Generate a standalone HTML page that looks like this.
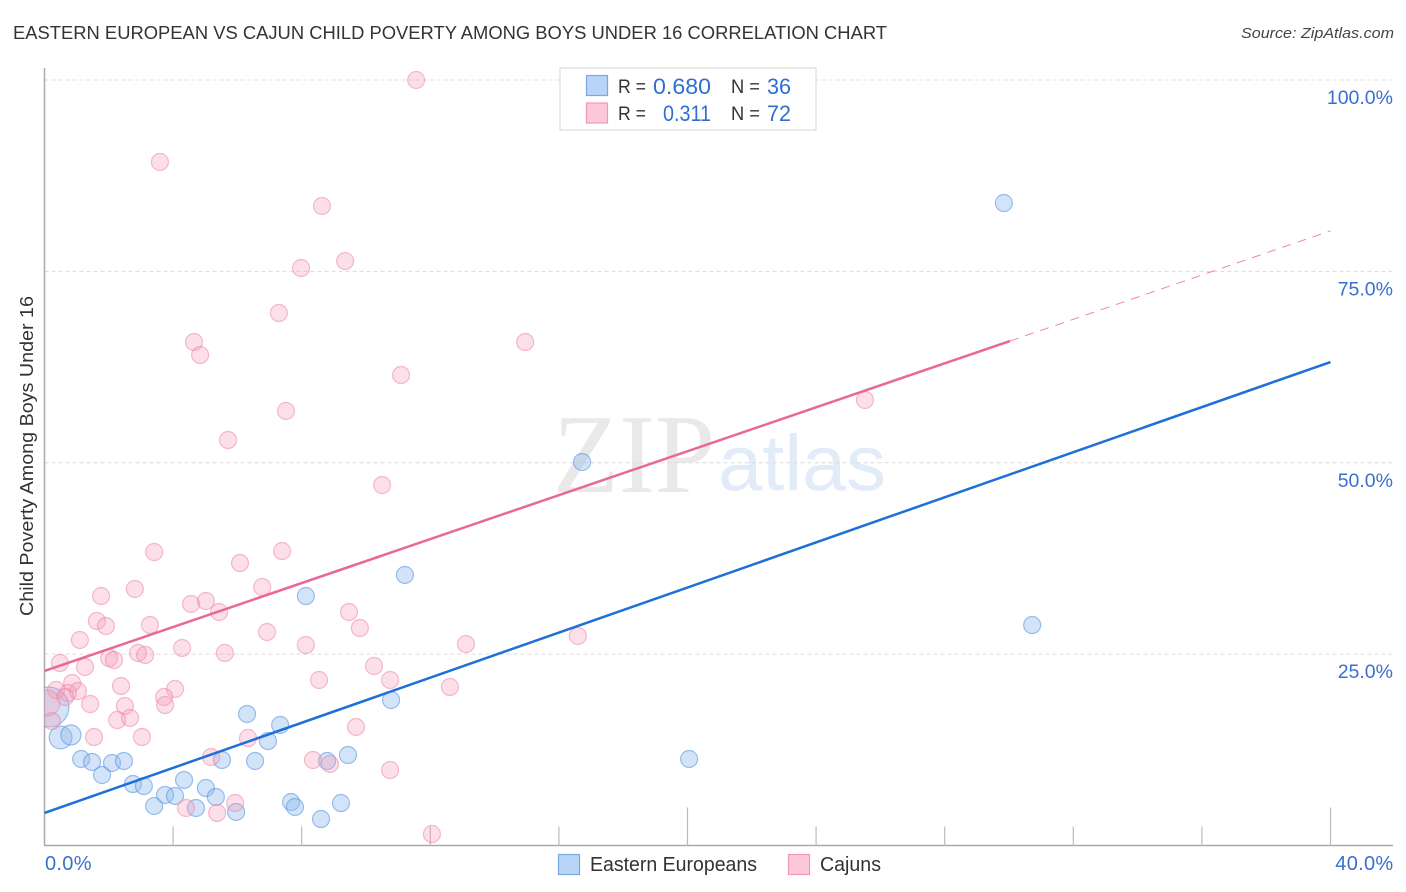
<!DOCTYPE html>
<html lang="en">
<head>
<meta charset="utf-8">
<title>Eastern European vs Cajun Child Poverty Among Boys Under 16 Correlation Chart</title>
<style>
html,body{margin:0;padding:0;background:#fff;width:1406px;height:892px;overflow:hidden}
svg{display:block;font-family:"Liberation Sans",sans-serif}
</style>
</head>
<body>
<svg id="chart" width="1406" height="892" viewBox="0 0 1406 892" xmlns="http://www.w3.org/2000/svg">
  <defs>
    <clipPath id="plot-clip"><rect x="44.5" y="60" width="1349" height="785.5"/></clipPath>
  </defs>
  <text x="13" y="39" font-size="18" fill="#333" textLength="874" lengthAdjust="spacingAndGlyphs">EASTERN EUROPEAN VS CAJUN CHILD POVERTY AMONG BOYS UNDER 16 CORRELATION CHART</text>
  <text x="1394" y="38" font-size="15" font-style="italic" fill="#444" text-anchor="end" textLength="153" lengthAdjust="spacingAndGlyphs">Source: ZipAtlas.com</text>
  <g>
    <text x="553" y="492" font-family="'Liberation Serif',serif" font-size="112" fill="#e9e9e9" textLength="162" lengthAdjust="spacingAndGlyphs">ZIP</text>
    <text x="718" y="490" font-size="79" fill="#e2ebf8" textLength="168" lengthAdjust="spacingAndGlyphs">atlas</text>
  </g>
  <g id="grid"></g>
  <g id="axes">
    <line x1="44.5" y1="68" x2="44.5" y2="845.5" stroke="#aaa" stroke-width="1.5"/>
    <line x1="44" y1="845.5" x2="1393" y2="845.5" stroke="#aaa" stroke-width="1.5"/>
  </g>
  <g id="x-ticks"></g>
  <g id="y-labels"></g>
  <g id="x-labels"></g>
  <text transform="translate(33,456) rotate(-90)" font-size="18" fill="#333" text-anchor="middle" textLength="320" lengthAdjust="spacingAndGlyphs">Child Poverty Among Boys Under 16</text>
  <g id="points" clip-path="url(#plot-clip)"></g>
  <g id="trends"></g>
  <g>
    <rect x="560" y="68" width="256" height="62" fill="#fff" stroke="#ddd" stroke-width="1.2"/>
    <rect x="586.5" y="75.5" width="21" height="20" fill="#b8d4f6" stroke="#7ba8e0" stroke-width="1.2"/>
    <rect x="586.5" y="103" width="21" height="20" fill="#fcc8da" stroke="#f09ab8" stroke-width="1.2"/>
    <text x="618" y="93" font-size="19" fill="#333" textLength="28" lengthAdjust="spacingAndGlyphs">R =</text>
    <text x="653" y="94" font-size="22" fill="#2f6fd0" textLength="58" lengthAdjust="spacingAndGlyphs">0.680</text>
    <text x="731" y="93" font-size="19" fill="#333" textLength="29" lengthAdjust="spacingAndGlyphs">N =</text>
    <text x="767" y="94" font-size="22" fill="#2f6fd0" textLength="24" lengthAdjust="spacingAndGlyphs">36</text>
    <text x="618" y="120" font-size="19" fill="#333" textLength="28" lengthAdjust="spacingAndGlyphs">R =</text>
    <text x="663" y="121" font-size="22" fill="#2f6fd0" textLength="48" lengthAdjust="spacingAndGlyphs">0.311</text>
    <text x="731" y="120" font-size="19" fill="#333" textLength="29" lengthAdjust="spacingAndGlyphs">N =</text>
    <text x="767" y="121" font-size="22" fill="#2f6fd0" textLength="24" lengthAdjust="spacingAndGlyphs">72</text>
  </g>
  <g>
    <g>
      <rect x="558.5" y="854.5" width="21" height="20" fill="#b8d4f6" stroke="#7ba8e0" stroke-width="1.2"/>
      <text x="590" y="871" font-size="20" fill="#333" textLength="167" lengthAdjust="spacingAndGlyphs">Eastern Europeans</text>
    </g>
    <g>
      <rect x="788.5" y="854.5" width="21" height="20" fill="#fcc8da" stroke="#f09ab8" stroke-width="1.2"/>
      <text x="820" y="871" font-size="20" fill="#333" textLength="61" lengthAdjust="spacingAndGlyphs">Cajuns</text>
    </g>
  </g>
</svg>
<script>
const yTickValues = [25, 50, 75, 100];
const yTickLabels = ["25.0%", "50.0%", "75.0%", "100.0%"];
const xTickValues = [4, 8, 12, 16, 20, 24, 28, 32, 36, 40];
const xMajorTicks = [20, 40];
const xEndValues = [0, 40];
const xEndLabels = ["0.0%", "40.0%"];

const easternX = [0.14,0.50,0.82,1.14,1.48,1.79,2.10,2.47,2.75,3.09,3.41,3.75,4.06,4.34,4.71,5.02,5.33,5.96,5.52,6.30,6.55,6.95,7.33,7.67,7.79,8.60,8.79,9.22,9.44,10.78,8.13,11.21,16.72,30.72,29.84,20.05];
const easternY = [18.09,14.11,14.44,11.30,10.91,9.21,10.78,11.04,8.03,7.77,5.16,6.60,6.47,8.56,4.90,7.51,6.34,4.38,11.17,17.18,11.04,13.65,15.74,5.68,5.03,3.46,11.04,5.55,11.82,19.01,32.59,35.34,50.10,28.80,83.93,11.30];
const easternWeight = [5.5,1.8,1.4,1,1,1,1,1,1,1,1,1,1,1,1,1,1,1,1,1,1,1,1,1,1,1,1,1,1,1,1,1,1,1,1,1];

const cajunX = [11.56,3.59,8.63,9.35,7.98,7.29,4.65,4.84,14.95,11.09,7.51,25.52,5.71,10.50,3.41,7.39,6.08,6.77,2.81,1.76,4.56,5.02,5.43,9.47,1.63,1.91,3.28,9.81,6.92,1.10,16.59,8.13,13.11,2.91,3.13,4.28,5.61,2.01,2.16,0.48,1.26,10.25,8.54,10.75,12.61,0.86,2.38,4.06,3.72,3.75,0.36,1.04,0.73,0.64,1.42,2.50,2.26,2.66,0.23,1.54,3.03,6.33,9.69,5.18,8.35,8.88,10.75,4.40,5.93,5.37,12.05,0.08];
const cajunY = [100.00,89.29,83.54,76.35,75.44,69.56,65.77,64.08,65.77,61.46,56.76,58.20,52.97,47.09,38.34,38.47,36.90,33.77,33.51,32.59,31.55,31.94,30.50,30.50,29.33,28.67,28.80,28.41,27.89,26.85,27.37,26.19,26.32,25.15,24.89,25.80,25.15,24.49,24.23,23.84,23.32,23.45,21.62,21.62,20.71,21.23,20.84,20.44,19.40,18.35,20.31,20.18,19.92,19.40,18.48,18.22,16.39,16.66,16.26,14.17,14.17,14.04,15.48,11.56,11.17,10.65,9.86,4.90,5.55,4.25,1.50,18.62];
const cajunWeight = [1,1,1,1,1,1,1,1,1,1,1,1,1,1,1,1,1,1,1,1,1,1,1,1,1,1,1,1,1,1,1,1,1,1,1,1,1,1,1,1,1,1,1,1,1,1,1,1,1,1,1,1,1,1,1,1,1,1,1,1,1,1,1,1,1,1,1,1,1,1,1,2.3];

const easternTrendX = [0, 40];
const easternTrendY = [4.25, 63.16];
const cajunTrendX = [0, 30.03];
const cajunTrendY = [22.8, 65.9];
const cajunExtendX = [30.03, 40];
const cajunExtendY = [65.9, 80.3];

const NS = "http://www.w3.org/2000/svg";
const xScale = v => 44.5 + v * 32.15;
const yScale = v => 845.5 - v * 7.655;
const rScale = w => 8.5 * Math.sqrt(w);

function make(tag, attrs, parent, text) {
  const el = document.createElementNS(NS, tag);
  for (const k in attrs) el.setAttribute(k, attrs[k]);
  if (text !== undefined) el.textContent = text;
  parent.appendChild(el);
  return el;
}

const grid = document.getElementById("grid");
const yLabels = document.getElementById("y-labels");
yTickValues.forEach((v, i) => {
  const line = make("line", {x1: 44.5, x2: 1393, y1: yScale(v), y2: yScale(v), stroke: "#dcdcdc", "stroke-width": 1, "stroke-dasharray": "4 3"}, grid);
  
  
  const label = make("text", {x: 1393, y: yScale(v) + 24, "font-size": 19.5, fill: "#3a6fd0", "text-anchor": "end"}, yLabels, yTickLabels[i]);
  
  
});

const xTicks = document.getElementById("x-ticks");
xTickValues.forEach(v => {
  const top = xMajorTicks.includes(v) ? 807.5 : 826.5;
  const tick = make("line", {x1: xScale(v), x2: xScale(v), y1: top, y2: 845.5, stroke: "#bbb", "stroke-width": 1.2}, xTicks);
  
  
});

const xLabels = document.getElementById("x-labels");
xEndValues.forEach((v, i) => {
  const label = make("text", {x: v === 0 ? 45 : 1393.5, y: 870, "font-size": 20, "letter-spacing": 0.3, fill: "#3a6fd0", "text-anchor": v === 0 ? "start" : "end"}, xLabels, xEndLabels[i]);
  
  
});

const points = document.getElementById("points");
easternX.forEach((v, i) => {
  const dot = make("circle", {cx: xScale(v), cy: yScale(easternY[i]), r: rScale(easternWeight[i]), fill: "#8db9ec", "fill-opacity": 0.38, stroke: "#4f8fe0", "stroke-opacity": 0.55, "stroke-width": 1.2}, points);
  
  
});
cajunX.forEach((v, i) => {
  const dot = make("circle", {cx: xScale(v), cy: yScale(cajunY[i]), r: rScale(cajunWeight[i]), fill: "#f59ab9", "fill-opacity": 0.32, stroke: "#ea7ea4", "stroke-opacity": 0.5, "stroke-width": 1.2}, points);
  
  
});

const trends = document.getElementById("trends");
const blueLine = make("line", {x1: xScale(easternTrendX[0]), y1: yScale(easternTrendY[0]), x2: xScale(easternTrendX[1]), y2: yScale(easternTrendY[1]), stroke: "#1f6fd8", "stroke-width": 2.5}, trends);


const pinkLine = make("line", {x1: xScale(cajunTrendX[0]), y1: yScale(cajunTrendY[0]), x2: xScale(cajunTrendX[1]), y2: yScale(cajunTrendY[1]), stroke: "#e8689a", "stroke-width": 2.5}, trends);


const pinkDash = make("line", {x1: xScale(cajunExtendX[0]), y1: yScale(cajunExtendY[0]), x2: xScale(cajunExtendX[1]), y2: yScale(cajunExtendY[1]), stroke: "#e8689a", "stroke-width": 1, "stroke-dasharray": "9 7", "stroke-opacity": 0.8}, trends);


</script>
</body>
</html>
